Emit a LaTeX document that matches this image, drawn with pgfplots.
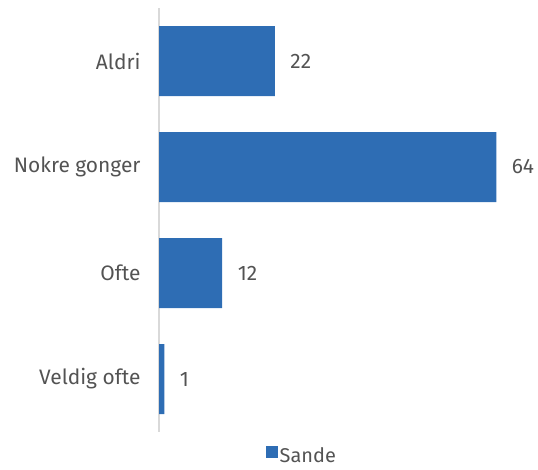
\documentclass[border=0pt]{standalone}
\usepackage{pgfplots}
\pgfplotsset{compat=1.18}
\usepackage{fontspec}
\setmainfont{Fira Sans}
\definecolor{barblue}{HTML}{2E6DB4}
\definecolor{txt}{HTML}{404040}
\begin{document}
\begin{tikzpicture}
\begin{axis}[
  at={(159bp,38bp)}, anchor=south west,
  scale only axis, width=371bp, height=424bp,
  xbar, bar width=70bp,
  xmin=0, xmax=70.4,
  ymin=-0.5, ymax=3.5, y dir=reverse,
  ytick={0,1,2,3},
  yticklabels={Aldri,Nokre gonger,Ofte,Veldig ofte},
  xtick=\empty,
  axis x line=none,
  axis y line*=left,
  y axis line style={draw=black!15, line width=1.5bp, -},
  major tick length=0pt,
  /pgf/number format/assume math mode=true,
  yticklabel style={font=\fontsize{21}{24}\selectfont\color{txt!90}, xshift=-15bp},
  nodes near coords,
  every node near coord/.append style={font=\fontsize{21}{24}\selectfont\color{txt!90}, anchor=west, xshift=12bp},
  legend style={at={(0.385,-0.032)}, anchor=north, draw=none, font=\fontsize{20}{22}\selectfont\color{txt!90}, inner sep=0pt, fill=none},
  legend image code/.code={\fill[barblue] (0cm,-0.06cm) rectangle (0.42cm,0.36cm);},
  clip=false,
]
\addplot[fill=barblue, draw=none] coordinates {(22,0) (64,1) (12,2) (1,3)};
\addlegendentry{Sande}
\end{axis}
\pgfresetboundingbox
\path (0,0) rectangle (538bp,470bp);
\end{tikzpicture}
\end{document}
